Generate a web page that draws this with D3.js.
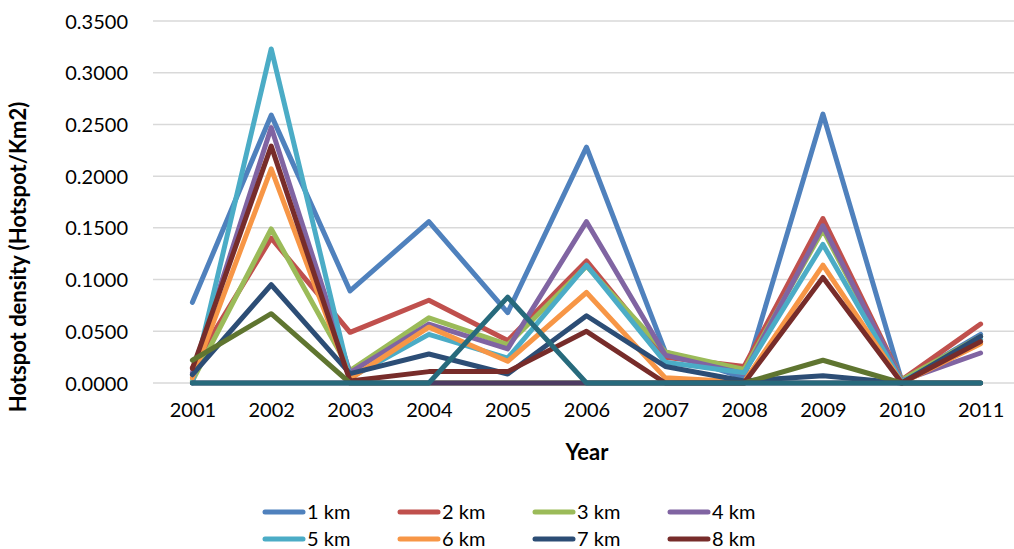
<!DOCTYPE html>
<html>
<head>
<meta charset="utf-8">
<script src="https://cdnjs.cloudflare.com/ajax/libs/d3/7.8.5/d3.min.js"></script>
<style>
  html, body { margin: 0; padding: 0; background: #fff; }
  svg { display: block; }
  text { font-family: Lato, "Open Sans", sans-serif; fill: #000; }
</style>
</head>
<body>
<svg id="chart" width="1014" height="549"></svg>
<script>
// ---- data ----
const years = ["2001","2002","2003","2004","2005","2006","2007","2008","2009","2010","2011"];
const yTicks = [0, 0.05, 0.10, 0.15, 0.20, 0.25, 0.30, 0.35];
const seriesNames = ["1 km","2 km","3 km","4 km","5 km","6 km","7 km","8 km","9 km","10 km","11 km"];
const legendNames = ["1 km","2 km","3 km","4 km","5 km","6 km","7 km","8 km"];
const seriesColors = ["#4F81BD","#C0504D","#9BBB59","#8064A2","#4BACC6","#F79646","#2C4D75","#772C2A","#5F7530","#4D3B62","#276A7C"];

const km1  = [0.078, 0.259, 0.089, 0.156, 0.068, 0.228, 0.030, 0.005, 0.260, 0.002, 0.047];
const km2  = [0.015, 0.140, 0.049, 0.080, 0.041, 0.118, 0.025, 0.016, 0.159, 0.003, 0.057];
const km3  = [0.002, 0.149, 0.012, 0.063, 0.037, 0.113, 0.030, 0.013, 0.148, 0.003, 0.045];
const km4  = [0.010, 0.247, 0.010, 0.057, 0.033, 0.156, 0.027, 0.009, 0.152, 0.002, 0.029];
const km5  = [0.000, 0.323, 0.005, 0.047, 0.024, 0.114, 0.020, 0.010, 0.134, 0.001, 0.042];
const km6  = [0.005, 0.207, 0.004, 0.054, 0.021, 0.0875, 0.005, 0.001, 0.114, 0.000, 0.038];
const km7  = [0.008, 0.095, 0.009, 0.028, 0.0087, 0.065, 0.016, 0.002, 0.007, 0.000, 0.045];
const km8  = [0.014, 0.229, 0.002, 0.011, 0.011, 0.050, 0.000, 0.000, 0.102, 0.000, 0.040];
const km9  = [0.022, 0.067, 0.000, 0.000, 0.000, 0.000, 0.000, 0.000, 0.022, 0.000, 0.000];
const km10 = [0.000, 0.000, 0.000, 0.000, 0.000, 0.000, 0.000, 0.000, 0.000, 0.000, 0.000];
const km11 = [0.000, 0.000, 0.000, 0.000, 0.083, 0.000, 0.000, 0.000, 0.000, 0.000, 0.000];
const seriesValues = [km1, km2, km3, km4, km5, km6, km7, km8, km9, km10, km11];

// ---- layout ----
const svg = d3.select("#chart");
const plot = { left: 153, right: 1020, top: 21, bottom: 383 };

const x = d3.scalePoint().domain(years).range([plot.left, plot.right]).padding(0.5);
const y = d3.scaleLinear().domain([0, 0.35]).range([plot.bottom, plot.top]);

// gridlines
svg.append("g")
  .selectAll("line")
  .data(yTicks)
  .join("line")
  .attr("x1", plot.left).attr("x2", 1014)
  .attr("y1", d => y(d)).attr("y2", d => y(d))
  .attr("stroke", "#d9d9d9").attr("stroke-width", 1.5);

// y axis labels
const yAxis = d3.axisLeft(y).tickValues(yTicks).tickFormat(d3.format(".4f")).tickSize(0).tickPadding(0);
const yg = svg.append("g").attr("transform", `translate(128,0)`).call(yAxis);
yg.select(".domain").remove();
yg.selectAll("text").attr("font-size", 20).style("font-family", "Lato, 'Open Sans', sans-serif").attr("fill", "#000").attr("dy", "0.35em");

// x axis labels
const xAxis = d3.axisBottom(x).tickSize(0).tickPadding(0);
const xg = svg.append("g").attr("transform", `translate(0,399)`).call(xAxis);
xg.select(".domain").remove();
xg.selectAll("text").attr("font-size", 20).style("font-family", "Lato, 'Open Sans', sans-serif").attr("fill", "#000").attr("dy", "0.9em");

// axis titles
svg.append("text")
  .attr("x", 587).attr("y", 460)
  .attr("text-anchor", "middle")
  .attr("font-size", 22).attr("font-weight", "bold")
  .text("Year");

svg.append("text")
  .attr("transform", "translate(26,257) rotate(-90)")
  .attr("text-anchor", "middle")
  .attr("font-size", 22).attr("font-weight", "bold")
  .text("Hotspot density (Hotspot/Km2)");

// lines
const line = d3.line().x((d, i) => x(years[i])).y(d => y(d));
svg.append("g")
  .selectAll("path")
  .data(seriesValues)
  .join("path")
  .attr("d", d => line(d))
  .attr("fill", "none")
  .attr("stroke", (d, i) => seriesColors[i])
  .attr("stroke-width", 5)
  .attr("stroke-linejoin", "round")
  .attr("stroke-linecap", "round");

// legend
const legend = svg.append("g");
const item = legend.selectAll("g")
  .data(legendNames)
  .join("g")
  .attr("transform", (d, i) => `translate(${265 + (i % 4) * 135},${512 + Math.floor(i / 4) * 27})`);
item.append("line")
  .attr("x1", 0).attr("x2", 38)
  .attr("stroke", (d, i) => seriesColors[i])
  .attr("stroke-width", 5)
  .attr("stroke-linecap", "round");
item.append("text")
  .attr("x", 42).attr("dy", "0.35em")
  .attr("font-size", 20)
  .text(d => d);
</script>
</body>
</html>
